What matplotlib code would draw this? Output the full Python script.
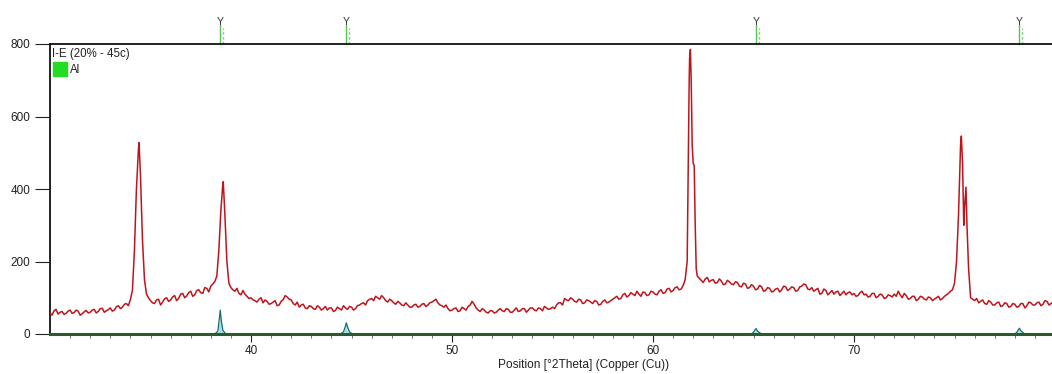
#!/usr/bin/env python3
"""XRD pattern of sample I-E (20% - 45c) with the Al reference pattern."""

import numpy as np
import matplotlib.pyplot as plt
from matplotlib.transforms import blended_transform_factory

# counts_even: 2theta = 30.0, 30.2, 30.4 ...; counts_odd: 30.1, 30.3, 30.5 ...
scan_start, scan_step = 30.0, 0.2
counts_even = [
    58, 64, 55, 62, 57,      # 30
    66, 59, 63, 56, 65,      # 31
    60, 68, 62, 71, 64,      # 32
    72, 66, 78, 74, 84,      # 33
    95, 230, 510, 260, 110,  # 34
    92, 84, 96, 88, 100,     # 35
    94, 106, 98, 112, 105,   # 36
    118, 108, 122, 112, 126,  # 37
    132, 145, 230, 415, 200,  # 38
    128, 118, 112, 120, 104,  # 39
    100, 92, 96, 86, 90,     # 40
    84, 92, 80, 95, 102,     # 41
    94, 80, 74, 82, 70,      # 42
    76, 68, 74, 70, 66,      # 43
    72, 65, 70, 78, 68,      # 44
    74, 70, 80, 86, 92,      # 45
    98, 104, 96, 100, 88,    # 46
    92, 82, 86, 78, 80,      # 47
    74, 82, 76, 84, 80,      # 48
    88, 96, 80, 74, 70,      # 49
    66, 72, 64, 70, 76,      # 50
    90, 72, 62, 66, 58,      # 51
    64, 60, 70, 62, 68,      # 52
    60, 72, 64, 70, 66,      # 53
    72, 64, 70, 76, 68,      # 54
    74, 80, 86, 98, 92,      # 55
    96, 88, 94, 86, 92,      # 56
    84, 90, 82, 94, 88,      # 57
    96, 104, 98, 112, 106,   # 58
    110, 118, 104, 114, 108,  # 59
    116, 108, 122, 114, 126,  # 60
    120, 130, 124, 150, 700,  # 61
    470, 160, 148, 152, 144,  # 62
    150, 142, 146, 138, 144,  # 63
    136, 142, 130, 138, 128,  # 64
    132, 124, 130, 120, 126,  # 65
    118, 126, 122, 130, 124,  # 66
    128, 120, 132, 136, 122,  # 67
    118, 126, 112, 120, 114,  # 68
    110, 118, 112, 108, 116,  # 69
    112, 106, 118, 110, 104,  # 70
    112, 104, 108, 100, 106,  # 71
    110, 118, 100, 106, 98,  # 72
    104, 96, 102, 94, 100,   # 73
    96, 104, 98, 108, 118,   # 74
    140, 330, 470, 340, 100,  # 75
    92, 86, 94, 82, 88,      # 76
    80, 88, 78, 84, 76,      # 77
    82, 76, 84, 78, 86,      # 78
    80, 88, 82, 90, 84,      # 79
]
counts_odd = [
    52, 68, 60, 54, 63,      # 30
    57, 66, 52, 61, 58,      # 31
    66, 58, 70, 60, 67,      # 32
    63, 75, 70, 82, 78,      # 33
    120, 400, 440, 150, 100,  # 34
    86, 94, 80, 97, 90,      # 35
    102, 92, 110, 100, 114,  # 36
    104, 120, 114, 128, 116,  # 37
    138, 160, 340, 330, 140,  # 38
    122, 126, 108, 110, 98,  # 39
    94, 88, 100, 94, 82,     # 40
    88, 78, 90, 106, 96,     # 41
    84, 88, 80, 72, 78,      # 42
    70, 78, 66, 76, 72,      # 43
    62, 74, 66, 72, 76,      # 44
    66, 78, 84, 80, 96,      # 45
    92, 100, 106, 92, 96,    # 46
    86, 90, 80, 86, 74,      # 47
    80, 74, 82, 76, 86,      # 48
    92, 86, 78, 80, 64,      # 49
    70, 62, 74, 66, 80,      # 50
    82, 66, 70, 60, 64,      # 51
    58, 66, 64, 70, 60,      # 52
    66, 62, 70, 60, 72,      # 53
    66, 72, 64, 72, 70,      # 54
    70, 86, 80, 94, 100,     # 55
    90, 96, 84, 94, 88,      # 56
    92, 80, 90, 86, 92,      # 57
    100, 96, 108, 102, 114,  # 58
    106, 110, 116, 106, 118,  # 59
    110, 118, 112, 124, 116,  # 60
    128, 122, 134, 200, 700,  # 61
    300, 154, 142, 156, 148,  # 62
    140, 152, 136, 148, 138,  # 63
    144, 132, 140, 126, 136,  # 64
    122, 134, 118, 128, 116,  # 65
    124, 116, 132, 120, 130,  # 66
    118, 130, 138, 124, 128,  # 67
    122, 110, 124, 108, 120,  # 68
    116, 106, 118, 114, 108,  # 69
    104, 114, 108, 102, 112,  # 70
    100, 110, 98, 108, 102,  # 71
    104, 108, 112, 96, 104,  # 72
    92, 104, 96, 102, 92,    # 73
    100, 94, 104, 112, 122,  # 74
    200, 520, 350, 180, 96,  # 75
    98, 90, 84, 92, 80,      # 76
    86, 76, 86, 74, 84,      # 77
    74, 84, 72, 88, 80,      # 78
    86, 78, 92, 80, 88,      # 79
]

# extra points at the tops of the reflections
peak_theta = [34.43, 38.62, 61.75, 61.82, 61.86, 61.95, 62.05, 62.15,
              75.34, 75.46, 75.57, 75.62]
peak_counts = [528, 420, 450, 760, 785, 520, 465, 180,
               546, 300, 405, 300]

# Al reference pattern (stick positions) and its drawn profile
al_pos = [38.47, 44.74, 65.13, 78.23]
ref_theta = [30.0, 38.2, 38.35, 38.42, 38.47, 38.52, 38.6, 38.75,
             44.45, 44.6, 44.7, 44.74, 44.8, 44.9, 45.05,
             64.9, 65.0, 65.08, 65.13, 65.2, 65.3, 65.4,
             78.0, 78.1, 78.18, 78.23, 78.3, 78.4, 78.5, 79.9]
ref_counts = [0, 0, 8, 40, 66, 38, 10, 0,
              0, 6, 22, 31, 20, 6, 0,
              0, 5, 12, 15, 8, 4, 0,
              0, 5, 12, 16, 9, 4, 0, 0]

RED = "#c0141c"
TEAL = "#1e6a74"
GREEN = "#22dd22"

plt.rcParams["font.family"] = ["Liberation Sans", "DejaVu Sans"]
fig = plt.figure(figsize=(10.52, 3.74), dpi=100)
ax = fig.add_axes([50 / 1052, 1 - 334 / 374, 1002 / 1052, 290 / 374])

even_theta = scan_start + scan_step * np.arange(len(counts_even))
odd_theta = even_theta + scan_step / 2
theta = np.concatenate([even_theta, odd_theta, peak_theta])
cnt = np.concatenate([counts_even, counts_odd, peak_counts])
order = np.argsort(theta)
ax.plot(theta[order], cnt[order], color=RED, lw=1.1, zorder=3)

ax.fill_between(ref_theta, ref_counts, color="#a6e2e2", lw=0, zorder=2)
ax.plot(ref_theta, ref_counts, color=TEAL, lw=0.9, zorder=2)
ax.axhline(0, color="#2c5a2c", lw=2.2, zorder=4, clip_on=False)

ax.set_xlim(30, 79.85)
ax.set_ylim(0, 800)
ax.set_yticks([0, 200, 400, 600, 800])
ax.set_xticks([40, 50, 60, 70])
ax.set_xticks(np.arange(31, 80), minor=True)
ax.tick_params(axis="y", direction="out", length=11, width=0.8,
               labelsize=8.5, colors="#222222", pad=3)
ax.tick_params(axis="x", which="major", direction="out", length=6,
               width=0.8, labelsize=8.5, colors="#222222", pad=2)
ax.tick_params(axis="x", which="minor", direction="out", length=3,
               width=0.6, colors="#555555")
for s in ("left", "top", "bottom"):
    ax.spines[s].set_linewidth(1.3)
    ax.spines[s].set_color("#111111")
ax.spines["right"].set_visible(False)

ax.set_xlabel("Position [°2Theta] (Copper (Cu))", fontsize=8.6, color="#222222")
ax.xaxis.set_label_coords(0.532, -0.085)

# legend block in the upper-left corner
ax.text(0.002, 0.985, "I-E (20% - 45c)", transform=ax.transAxes,
        fontsize=8.3, va="top", ha="left", color="#222222")
fig.patches.append(plt.Rectangle((53 / 1052, 1 - 76 / 374), 14 / 1052,
                                 14 / 374, transform=fig.transFigure,
                                 color=GREEN, zorder=5))
fig.text(70 / 1052, 1 - 70 / 374, "Al", fontsize=8.3, va="center",
         color="#222222")

# reference markers above the frame
tr = blended_transform_factory(ax.transData, ax.transAxes)
for p in al_pos:
    ax.plot([p, p], [1.0, 1.065], color="#55c455", lw=1.0,
            transform=tr, clip_on=False)
    ax.plot([p + 0.12, p + 0.12], [1.0, 1.055], color="#88d088", lw=1.0,
            ls=(0, (2, 1.5)), transform=tr, clip_on=False)
    ax.text(p, 1.06, "Y", transform=tr, fontsize=7.5, ha="center",
            va="bottom", color="#333333")

fig.savefig("out.png", dpi=100)
